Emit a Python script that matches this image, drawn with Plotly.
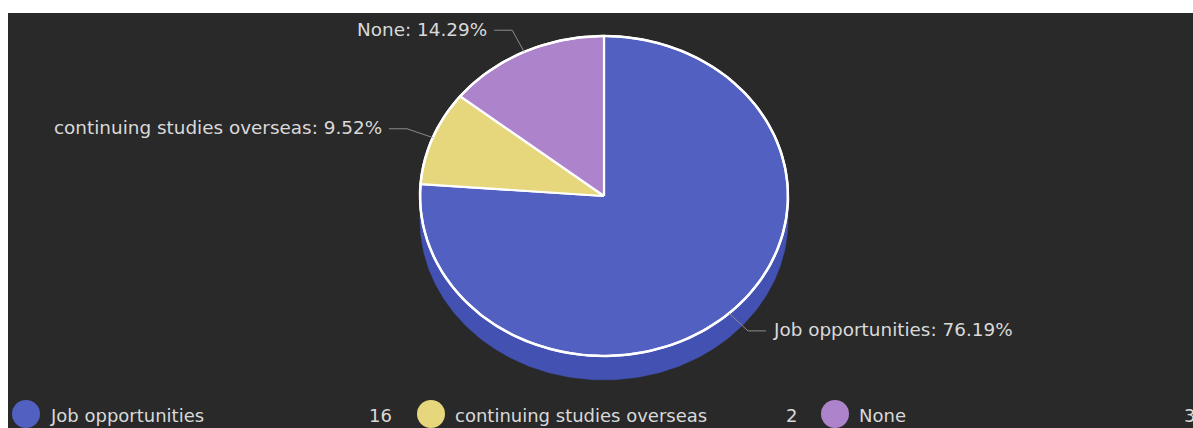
import math
import plotly.graph_objects as go

# ---- data ----
labels = ["Job opportunities", "continuing studies overseas", "None"]
values = [16, 2, 3]

# ---- style ----
top_colors = ["#5160c1", "#e6d77c", "#ad83cc"]
side_colors = ["#4352b2", "#c9bb62", "#9068b0"]
BG = "#292929"
TXT = "#d9d9d9"
LEADER = "#8c8c8c"
FONT = "DejaVu Sans"

W, H = 1193, 428
ML, MT = 8, 13
CX, CY, RX, RY, DEPTH = 604, 196, 184, 160, 24

def pt(a, dy=0.0, k=1.0):
    return CX + k * RX * math.sin(a), CY - k * RY * math.cos(a) + dy

def arc(a0, a1, dy=0.0, n=None):
    if n is None:
        n = max(4, int(abs(a1 - a0) / (2 * math.pi) * 360))
    xs, ys = [], []
    for i in range(n + 1):
        a = a0 + (a1 - a0) * i / n
        x, y = pt(a, dy)
        xs.append(x); ys.append(y)
    return xs, ys

fig = go.Figure()
total = sum(values)
angles = []
acc = 0.0
for v in values:
    a0 = acc / total * 2 * math.pi
    acc += v
    a1 = acc / total * 2 * math.pi
    angles.append((a0, a1))

# side (extrusion) for the visible front half
for (a0, a1), col in zip(angles, side_colors):
    lo, hi = max(a0, math.pi / 2), min(a1, 3 * math.pi / 2)
    if hi <= lo:
        continue
    xs1, ys1 = arc(lo, hi)
    xs2, ys2 = arc(hi, lo, DEPTH)
    fig.add_trace(go.Scatter(x=xs1 + xs2 + [xs1[0]], y=ys1 + ys2 + [ys1[0]],
                             mode="lines", fill="toself", fillcolor=col,
                             line=dict(color=col, width=0.5), hoverinfo="skip",
                             showlegend=False))

# top face slices
for (a0, a1), col in zip(angles, top_colors):
    xs, ys = arc(a0, a1)
    fig.add_trace(go.Scatter(x=[CX] + xs + [CX], y=[CY] + ys + [CY],
                             mode="lines", fill="toself", fillcolor=col,
                             line=dict(color="white", width=2.2), hoverinfo="skip",
                             showlegend=False))

# outline of top face
xs, ys = arc(0, 2 * math.pi, n=360)
fig.add_trace(go.Scatter(x=xs, y=ys, mode="lines", line=dict(color="white", width=2.5),
                         hoverinfo="skip", showlegend=False))

annotations = []
# leader lines + labels
for (a0, a1), lab, v in zip(angles, labels, values):
    m = (a0 + a1) / 2
    x0, y0 = pt(m)
    x1, y1 = pt(m, k=1.15)
    s = 1 if math.sin(m) > 0 else -1
    x2 = x1 + s * 18
    fig.add_trace(go.Scatter(x=[x0, x1, x2], y=[y0, y1, y1], mode="lines",
                             line=dict(color=LEADER, width=1), hoverinfo="skip",
                             showlegend=False))
    annotations.append(dict(x=x2 + s * 5, y=y1 - 1, xref="x", yref="y",
                            text=f"{lab}: {v / total * 100:.2f}%", showarrow=False,
                            xanchor="left" if s > 0 else "right", yanchor="middle",
                            font=dict(family=FONT, size=18.4, color=TXT)))

# legend (bottom row)
LEG_Y = 414
LEG_X = [26, 431, 835]
VAL_RIGHT = [394, 799, 1197]
for lab, v, col, lx, vr in zip(labels, values, top_colors, LEG_X, VAL_RIGHT):
    fig.add_trace(go.Scatter(x=[lx], y=[LEG_Y], mode="markers",
                             marker=dict(size=28, color=col, line=dict(width=0)),
                             hoverinfo="skip", showlegend=False))
    annotations.append(dict(x=lx + 22, y=LEG_Y + 1, xref="x", yref="y", text=lab,
                            showarrow=False, xanchor="left", yanchor="middle",
                            font=dict(family=FONT, size=18, color=TXT)))
    annotations.append(dict(x=(vr - ML) / (W - ML), y=LEG_Y + 1, xref="paper", yref="y",
                            text=str(v), showarrow=False, xanchor="right", yanchor="middle",
                            font=dict(family=FONT, size=18, color=TXT)))

fig.update_layout(
    width=W, height=H,
    margin=dict(l=ML, t=MT, r=0, b=0, pad=0),
    paper_bgcolor="white", plot_bgcolor=BG,
    xaxis=dict(range=[ML, W], visible=False, fixedrange=True),
    yaxis=dict(range=[H, MT], visible=False, fixedrange=True),
    annotations=annotations,
    showlegend=False,
)
fig.write_html("out.html", config={"displayModeBar": False},
               post_script="document.body.style.margin='0';document.body.style.overflow='hidden';")
